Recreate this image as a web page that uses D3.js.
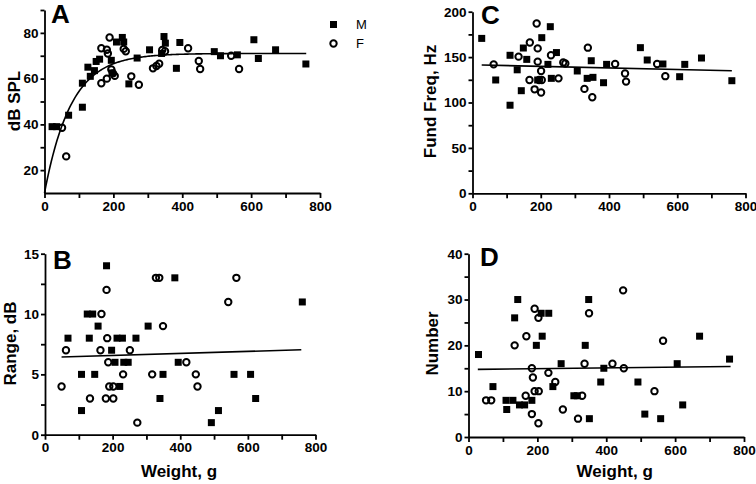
<!DOCTYPE html>
<html><head><meta charset="utf-8">
<script src="https://cdn.jsdelivr.net/npm/d3@7"></script>
<style>
html,body{margin:0;padding:0;background:#fff;}
svg{display:block;font-family:"Liberation Sans",Arial,Helvetica,sans-serif;}
.tick text{font-weight:bold;font-size:13.5px;fill:#000;}
</style></head>
<body><svg id="c" width="756" height="484"></svg>
<script>
// ---------- data (weight g, value) ----------
const splMale = [[22,39],[35,39],[70,44],[110,58],[110,47.5],[126,65],[133,61],[145,63.5],[150,67.5],[160,68.5],[194,68],[196,62.5],[209,76],[226,78],[230,76],[245,57.7],[269,69],[305,72.6],[340,71],[347,78.4],[351,75.5],[383,64.5],[393,75.8],[493,71.8],[511,70],[560,70.4],[608,77],[621,68.8],[671,72.6],[759,66.4]];
const splFemale = [[51,38.5],[63,26],[165,73.3],[165,58],[181,72.6],[184,71],[181,60],[189,78],[194,64],[199,62.3],[204,61.2],[230,73],[236,72],[252,61],[274,57.3],[315,64.5],[325,65.5],[333,66.5],[342,72.5],[350,72],[417,73.3],[448,67.7],[452,64.2],[542,70],[565,64.2]];
const freqMale = [[27,170.6],[68,124.8],[110,152],[110,97],[131,136],[143,113],[149,160],[159,147.5],[191,124.8],[203,171.4],[221,142],[228,183.5],[231,126.6],[246,155],[307,134.7],[336,126.6],[348,146],[353,127.7],[384,121.8],[393,142],[492,160.4],[512,146.8],[558,142.4],[607,128.4],[622,142],[671,149],[760,124]];
const freqFemale = [[62,142],[135,150.5],[168,166],[167,124.8],[182,114.5],[188,187],[191,159.6],[191,145],[195,124.8],[201,134.7],[203,124.8],[201,111],[230,152],[252,126.6],[266,144],[272,143],[328,115],[338,160.4],[351,105.7],[418,142.4],[447,132],[450,123],[541,142.4],[565,129]];
const rangeMale = [[68,8],[108,5],[108,2],[125,10],[131,8],[141,10],[147,5],[157,9],[182,14],[197,7],[207,6],[213,8],[221,4],[229,8],[233,6],[246,6],[269,8],[305,9],[340,3],[349,5],[384,13],[394,6],[492,1],[513,2],[559,5],[608,5],[623,3],[761,11]];
const rangeFemale = [[49,4],[62,7],[133,3],[167,10],[164,7],[182,12],[184,8],[187,6],[180,3],[190,4],[202,4],[202,3],[231,5],[251,7],[273,1],[317,5],[328,13],[338,13],[349,9],[418,6],[446,5],[451,4],[542,11],[566,13]];
const numMale = [[29,18],[71,11],[111,6],[109,8],[129,8],[134,26],[143,30],[148,7],[163,7],[184,8],[197,20],[211,27],[214,22],[233,27],[245,11],[269,16],[306,9],[316,9],[339,20],[349,30],[351,4],[384,12],[393,15],[492,12],[512,5],[558,4],[606,16],[622,7],[671,22],[758,17]];
const numFemale = [[51,8],[66,8],[134,20],[168,22],[166,9],[184,15],[187,13],[184,5],[192,28],[192,10],[203,26],[204,10],[203,3],[232,14],[252,12],[274,6],[318,4],[330,9],[337,16],[350,27],[418,16],[449,32],[451,15],[540,10],[565,21]];

// fits: A exponential rise y = base + amp*(1-exp(-k x)); others linear [x0,y0,x1,y1]
const splFit = {base:10, amp:61, k:0.013, x0:0, x1:760};
const freqFit = [27,141.3,760,135];
const rangeFit = [49,6.44,758,7.04];
const numFit = [27,14.76,761,15.4];

const weightTicks = [0,100,200,300,400,500,600,700,800];
const weightLabels = [0,200,400,600,800];
const splTicks = [20,30,40,50,60,70,80,90], splLabels=[20,40,60,80];
const freqTicks = [0,25,50,75,100,125,150,175,200], freqLabels=[0,50,100,150,200];
const rangeTicks = [0,2.5,5,7.5,10,12.5,15], rangeLabels=[0,5,10,15];
const numTicks = [0,5,10,15,20,25,30,35,40], numLabels=[0,10,20,30,40];
const seriesNames = ["M","F"];

const svg = d3.select("#c");

function panel(o){
  const x = d3.scaleLinear().domain([0,800]).range(o.xr);
  const y = d3.scaleLinear().domain(o.yd).range(o.yr);
  const g = svg.append("g");
  const xa = d3.axisBottom(x).tickValues(weightTicks).tickSize(5).tickSizeOuter(0).tickPadding(3)
     .tickFormat(d=>weightLabels.includes(d)?d:"");
  const ya = d3.axisLeft(y).tickValues(o.yt).tickSize(4).tickSizeOuter(0).tickPadding(2)
     .tickFormat(d=>o.yl.includes(d)?d:"");
  const gx = g.append("g").attr("transform",`translate(0,${o.yr[0]})`).call(xa);
  const gy = g.append("g").attr("transform",`translate(${o.xr[0]},0)`).call(ya);
  [gx,gy].forEach(a=>{a.selectAll("path,line").attr("stroke","#000").attr("stroke-width",1.8);});
  // fit line
  let pts;
  if(o.fit.length){ pts=[[o.fit[0],o.fit[1]],[o.fit[2],o.fit[3]]]; }
  else { pts = d3.range(o.fit.x0,o.fit.x1+1,4).map(w=>[w,o.fit.base+o.fit.amp*(1-Math.exp(-o.fit.k*w))]); }
  g.append("path").datum(pts).attr("fill","none").attr("stroke","#000").attr("stroke-width",1.6)
    .attr("d",d3.line().x(d=>x(d[0])).y(d=>y(d[1])));
  g.selectAll("rect.m").data(o.male).join("rect").attr("class","m")
    .attr("x",d=>x(d[0])-3.5).attr("y",d=>y(d[1])-3.5).attr("width",7).attr("height",7).attr("fill","#000");
  g.selectAll("circle.f").data(o.female).join("circle").attr("class","f")
    .attr("cx",d=>x(d[0])).attr("cy",d=>y(d[1])).attr("r",3.2)
    .attr("fill","none").attr("stroke","#000").attr("stroke-width",2);
  // letter
  g.append("text").attr("x",o.letterPos[0]).attr("y",o.letterPos[1]).text(o.letter)
    .attr("font-size",26).attr("font-weight","bold");
  // y title
  g.append("text").attr("transform",`translate(${o.ytPos[0]},${o.ytPos[1]}) rotate(-90)`)
    .attr("text-anchor","middle").attr("dy","0.35em").attr("font-size",17).attr("font-weight","bold").text(o.ytitle);
  if(o.xtitle){
    g.append("text").attr("x",o.xtPos[0]).attr("y",o.xtPos[1]).attr("text-anchor","middle")
      .attr("font-size",17).attr("font-weight","bold").text(o.xtitle);
  }
  return g;
}

const gA = panel({xr:[44.5,320],yd:[10,90],yr:[193,10],yt:splTicks,yl:splLabels,male:splMale,female:splFemale,
  fit:splFit,letter:"A",letterPos:[51,23],ytitle:"dB SPL",ytPos:[14,101]});
panel({xr:[472.5,745.5],yd:[0,200],yr:[193.3,11.7],yt:freqTicks,yl:freqLabels,male:freqMale,female:freqFemale,
  fit:freqFit,letter:"C",letterPos:[481,24],ytitle:"Fund Freq, Hz",ytPos:[430.5,101.5]});
panel({xr:[45,315.5],yd:[0,15],yr:[434.7,253.7],yt:rangeTicks,yl:rangeLabels,male:rangeMale,female:rangeFemale,
  fit:rangeFit,letter:"B",letterPos:[53,269],ytitle:"Range, dB",ytPos:[10,343.5],xtitle:"Weight, g",xtPos:[179,477]});
panel({xr:[468.5,744],yd:[0,40],yr:[437,253.7],yt:numTicks,yl:numLabels,male:numMale,female:numFemale,
  fit:numFit,letter:"D",letterPos:[480,266],ytitle:"Number",ytPos:[432.5,343.5],xtitle:"Weight, g",xtPos:[614.7,477]});

// legend in panel A
const leg = gA.append("g");
seriesNames.forEach((n,i)=>{
  const cy = 24.5 + i*19;
  if(i===0) leg.append("rect").attr("x",330).attr("y",cy-3.5).attr("width",7).attr("height",7).attr("fill","#000");
  else leg.append("circle").attr("cx",333.5).attr("cy",cy).attr("r",3.2).attr("fill","none").attr("stroke","#000").attr("stroke-width",2);
  leg.append("text").attr("x",356).attr("y",cy).attr("dy","0.36em").attr("font-size",13).text(n);
});
</script></body></html>
